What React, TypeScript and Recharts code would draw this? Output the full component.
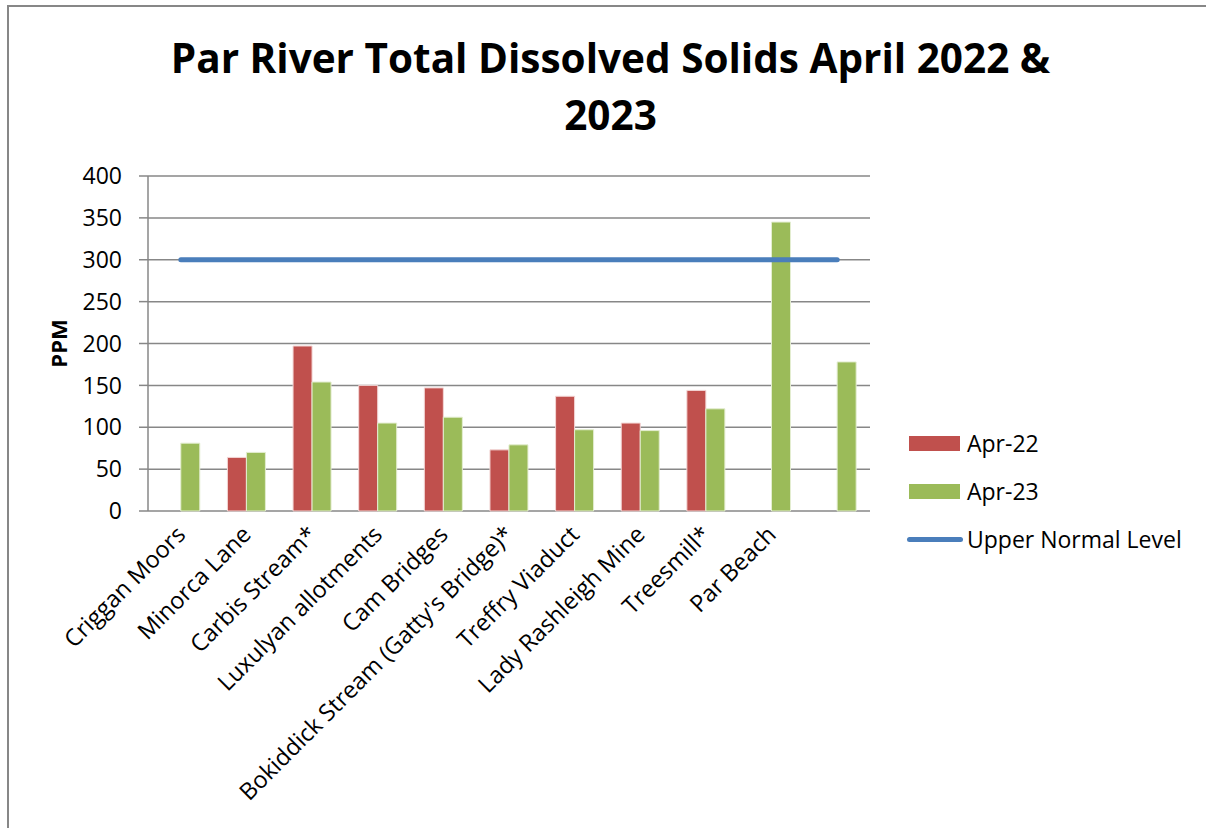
import { ComposedChart, Bar, Line, XAxis, YAxis, CartesianGrid, Legend } from "recharts";

const sites = [
  "Criggan Moors",
  "Minorca Lane",
  "Carbis Stream*",
  "Luxulyan allotments",
  "Cam Bridges",
  "Bokiddick Stream (Gatty's Bridge)*",
  "Treffry Viaduct",
  "Lady Rashleigh Mine",
  "Treesmill*",
  "Par Beach",
  "",
];
const apr22 = [null, 64, 197, 150, 147, 73, 137, 105, 144, null, null];
const apr23 = [81, 70, 154, 105, 112, 79, 97, 96, 122, 345, 178];
const upperNormal = [300, 300, 300, 300, 300, 300, 300, 300, 300, 300, 300];
const yTicks = [0, 50, 100, 150, 200, 250, 300, 350, 400];
const slotEdges = [0, 1, 2, 3, 4, 5, 6, 7, 8, 9, 10, 11];

const data = sites.map((site, i) => ({
  site,
  apr22: apr22[i],
  apr23: apr23[i],
  upper: upperNormal[i],
}));

const FONT = "'Open Sans', sans-serif";
const GRAY = "#878787";

function SiteTick({ x, y, payload }: any) {
  return (
    <text
      x={0}
      y={0}
      transform={`translate(${x + 6},${y + 25}) rotate(-45)`}
      textAnchor="end"
      fontSize={23.5}
      fontFamily={FONT}
      fill="#000"
    >
      {payload.value}
    </text>
  );
}

function LegendBox({ payload }: any) {
  return (
    <div style={{ fontFamily: FONT, fontSize: 23, color: "#000" }}>
      {payload.map((p: any) => (
        <div key={p.value} style={{ display: "flex", alignItems: "center", height: 48 }}>
          {p.type === "line" ? (
            <div style={{ width: 56, height: 5, borderRadius: 3, background: p.color, marginLeft: -2, marginRight: 4 }} />
          ) : (
            <div style={{ width: 51, height: 15, background: p.color, marginRight: 7 }} />
          )}
          <span>{p.value}</span>
        </div>
      ))}
    </div>
  );
}

export default function App() {
  return (
    <div
      style={{
        position: "absolute",
        left: 7,
        top: 5,
        width: 1197,
        height: 821,
        borderTop: `2px solid ${GRAY}`,
        borderLeft: `2px solid ${GRAY}`,
        background: "#fff",
      }}
    >
      <div
        style={{
          position: "absolute",
          left: 3,
          top: 22,
          width: 1197,
          textAlign: "center",
          fontFamily: FONT,
          fontWeight: 700,
          fontSize: 40.5,
          lineHeight: "57px",
          color: "#000",
          zIndex: 2,
        }}
      >
        <div>Par River Total Dissolved Solids April 2022 &amp;</div>
        <div>2023</div>
      </div>
      <ComposedChart
        width={1197}
        height={821}
        data={data}
        margin={{ top: 169, right: 336, bottom: 0, left: 0 }}
        barCategoryGap="21%"
        barGap={0}
      >
        <CartesianGrid xAxisId="site" vertical={false} stroke={GRAY} strokeWidth={1.5} />
        <XAxis
          xAxisId="edges"
          type="number"
          domain={[0, 11]}
          ticks={slotEdges}
          allowDataOverflow
          tick={false}
          tickSize={9}
          height={0}
          axisLine={{ stroke: GRAY, strokeWidth: 1.5 }}
          tickLine={{ stroke: GRAY, strokeWidth: 1.5 }}
        />
        <XAxis
          xAxisId="site"
          dataKey="site"
          interval={0}
          height={317}
          tickSize={0}
          tickMargin={0}
          axisLine={false}
          tickLine={false}
          tick={<SiteTick />}
        />
        <YAxis
          domain={[0, 400]}
          ticks={yTicks}
          width={139}
          tickSize={9}
          tickMargin={17}
          axisLine={{ stroke: GRAY, strokeWidth: 1.5 }}
          tickLine={{ stroke: GRAY, strokeWidth: 1.5 }}
          tick={{ fontSize: 23, fontFamily: FONT, fill: "#000" }}
          label={({ viewBox }: any) => (
            <text
              x={49}
              y={viewBox.y + viewBox.height / 2}
              transform={`rotate(-90 49 ${viewBox.y + viewBox.height / 2})`}
              textAnchor="middle"
              dominantBaseline="central"
              fontSize={22}
              fontWeight={700}
              fontFamily={FONT}
              fill="#000"
            >
              PPM
            </text>
          )}
        />
        <Legend
          layout="vertical"
          align="center"
          verticalAlign="middle"
          content={<LegendBox />}
          wrapperStyle={{ left: 900, top: 412, width: 295, height: 150 }}
        />
        <Bar xAxisId="site" dataKey="apr22" name="Apr-22" fill="#C0504D" stroke="#f3d6d5" strokeWidth={1} isAnimationActive={false} legendType="rect" />
        <Bar xAxisId="site" dataKey="apr23" name="Apr-23" fill="#9BBB59" stroke="#e3edd0" strokeWidth={1} isAnimationActive={false} legendType="rect" />
        <Line
          xAxisId="site"
          dataKey="upper"
          name="Upper Normal Level"
          stroke="#4A7EBB"
          strokeWidth={5}
          strokeLinecap="round"
          dot={false}
          activeDot={false}
          legendType="line"
          isAnimationActive={false}
        />
      </ComposedChart>
    </div>
  );
}
